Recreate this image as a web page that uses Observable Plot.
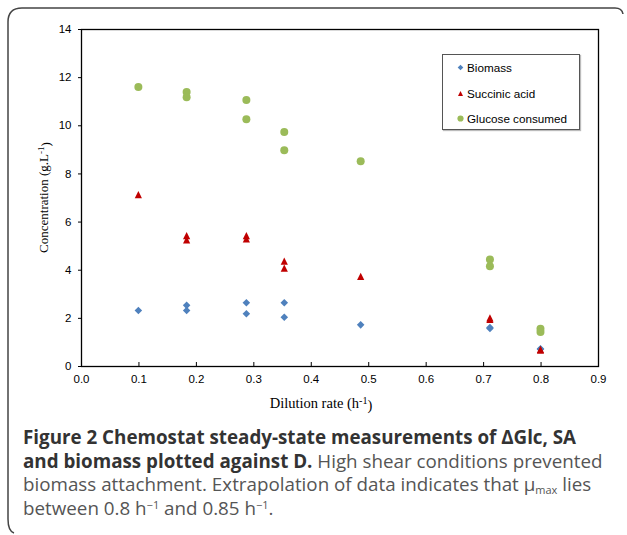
<!DOCTYPE html>
<html><head><meta charset="utf-8">
<script src="https://cdn.jsdelivr.net/npm/d3@7"></script>
<script src="https://cdn.jsdelivr.net/npm/@observablehq/plot@0.6"></script>
<style>
body{margin:0;background:#fff;}
#wrap{position:relative;width:627px;height:535px;overflow:hidden;background:#fff;}
#chart{position:absolute;left:0;top:0;}
#border{position:absolute;left:0;top:0;pointer-events:none;}
#legend{position:absolute;left:442px;top:54px;width:138px;height:76px;border:1px solid #555;box-sizing:border-box;font:11.7px Arial,"Liberation Sans",sans-serif;color:#000;background:#fff;box-shadow:1px 1px 1px #bbb;}
.item{position:absolute;left:13px;height:14px;display:flex;align-items:center;white-space:nowrap;}
.item svg{margin-right:2px;}
#caption{position:absolute;left:23px;top:426px;font-family:"Open Sans",sans-serif;font-size:18.8px;line-height:23.5px;color:#555;white-space:nowrap;}
#caption b{color:#333;}
#caption .sup,#caption .sub{font-size:11px;line-height:11px;position:relative;vertical-align:baseline;}
#caption .sup{top:-6px;}
#caption .sub{top:3px;}
</style>
</head><body>
<div id="wrap">
  <div id="chart"></div>
  <div id="legend"></div>
  <div id="caption"></div>
  <svg id="border" width="627" height="535"><path d="M623 14 Q622 8 615 8 L22 8 Q8 8 8 22 L8 519 Q8 531 14 533" fill="none" stroke="#444" stroke-width="1.5"/></svg>
</div>
<script>
// Data
const dilution   = [0.099, 0.183, 0.183, 0.287, 0.287, 0.353, 0.353, 0.486, 0.711, 0.711, 0.799, 0.799];
const biomass    = [2.33, 2.54, 2.33, 2.65, 2.19, 2.65, 2.05, 1.73, 1.62, 1.58, 0.74, 0.72];
const succinic   = [7.14, 5.44, 5.26, 5.44, 5.30, 4.38, 4.09, 3.74, 2.02, 1.96, 0.71, 0.68];
const glucose    = [11.61, 11.40, 11.19, 11.07, 10.27, 9.74, 8.98, 8.53, 4.45, 4.16, 1.57, 1.43];
const seriesNames = ["Biomass", "Succinic acid", "Glucose consumed"];
const seriesColors = ["#4F81BD", "#C00000", "#9BBB59"];
const xTicks = [0, 0.1, 0.2, 0.3, 0.4, 0.5, 0.6, 0.7, 0.8, 0.9];
const yTicks = [0, 2, 4, 6, 8, 10, 12, 14];
const xTitle = ["Dilution rate (h", "-1", ")"];
const yTitle = ["Concentration (g.L", "-1", ")"];

const rows = [];
[biomass, succinic, glucose].forEach((vals, i) => {
  vals.forEach((v, j) => rows.push({series: seriesNames[i], D: dilution[j], value: v}));
});

const triangle = {
  draw(ctx, size) {
    const r = Math.sqrt(size / Math.PI);
    ctx.moveTo(0, -r); ctx.lineTo(r, r); ctx.lineTo(-r, r); ctx.closePath();
  }
};
const symbols = ["diamond2", triangle, "circle"];
const radii = [3.4, 3.6, 4];

const font = "Arial, 'Liberation Sans', sans-serif";
const plot = Plot.plot({
  width: 627, height: 415,
  marginLeft: 81, marginRight: 29, marginTop: 29, marginBottom: 49,
  style: {fontFamily: font, fontSize: "11.5px", color: "#000", background: "transparent", overflow: "visible"},
  x: {domain: [0, 0.9]},
  y: {domain: [0, 14]},
  marks: [
    Plot.axisX({ticks: xTicks, tickFormat: d3.format(".1f"), tickSize: -4, tickPadding: 12, label: null, stroke: "#000"}),
    Plot.axisY({ticks: yTicks, tickSize: 3, tickPadding: 7, label: null, stroke: "#000"}),
    ...seriesNames.map((s, i) => Plot.dot(rows.filter(d => d.series === s), {
      x: "D", y: "value", symbol: () => symbols[i], r: radii[i], fill: seriesColors[i], stroke: "none"
    })),
    Plot.frame({stroke: "#000", strokeWidth: 1.3})
  ]
});
document.getElementById("chart").appendChild(plot);

// axis titles with superscripts
const svg = d3.select(plot);
const ys = plot.scale("y");
function title(parts, x, y, rotate) {
  const t = svg.append("text")
    .attr("transform", `translate(${x},${y})${rotate ? " rotate(-90)" : ""}`)
    .attr("text-anchor", "middle")
    .attr("font-family", "'Times New Roman', 'Liberation Serif', serif")
    .attr("font-size", rotate ? 13 : 14.5)
    .attr("fill", "#000");
  t.append("tspan").text(parts[0]);
  t.append("tspan").attr("dy", "-0.4em").attr("font-size", "0.7em").text(parts[1]);
  t.append("tspan").attr("dy", "0.4em").text(parts[2]);
}
title(xTitle, 321, 408, false);
title(yTitle, 48, (ys.range[0] + ys.range[1]) / 2, true);

// legend
const legend = d3.select("#legend");
const legendTops = [5, 31, 56];
seriesNames.forEach((s, i) => {
  const item = legend.append("div").attr("class", "item").style("top", legendTops[i] + "px");
  const sv = item.append("svg").attr("width", 9).attr("height", 9);
  const sym = typeof symbols[i] === "string" ? (symbols[i] === "circle" ? d3.symbolCircle : d3.symbolDiamond2) : triangle;
  sv.append("path").attr("transform", "translate(4.5,4.5)")
    .attr("d", d3.symbol(sym, [20, 20, 30][i])()).attr("fill", seriesColors[i]);
  item.append("span").text(s);
});

// caption
document.getElementById("caption").innerHTML =
  "<b>Figure 2 Chemostat steady-state measurements of \u0394Glc, SA</b><br>" +
  "<b>and biomass plotted against D.</b> High shear conditions prevented<br>" +
  "biomass attachment. Extrapolation of data indicates that \u03bc<span class='sub'>max</span> lies<br>" +
  "between 0.8 h<span class='sup'>\u22121</span> and 0.85 h<span class='sup'>\u22121</span>.";
</script>
</body></html>
